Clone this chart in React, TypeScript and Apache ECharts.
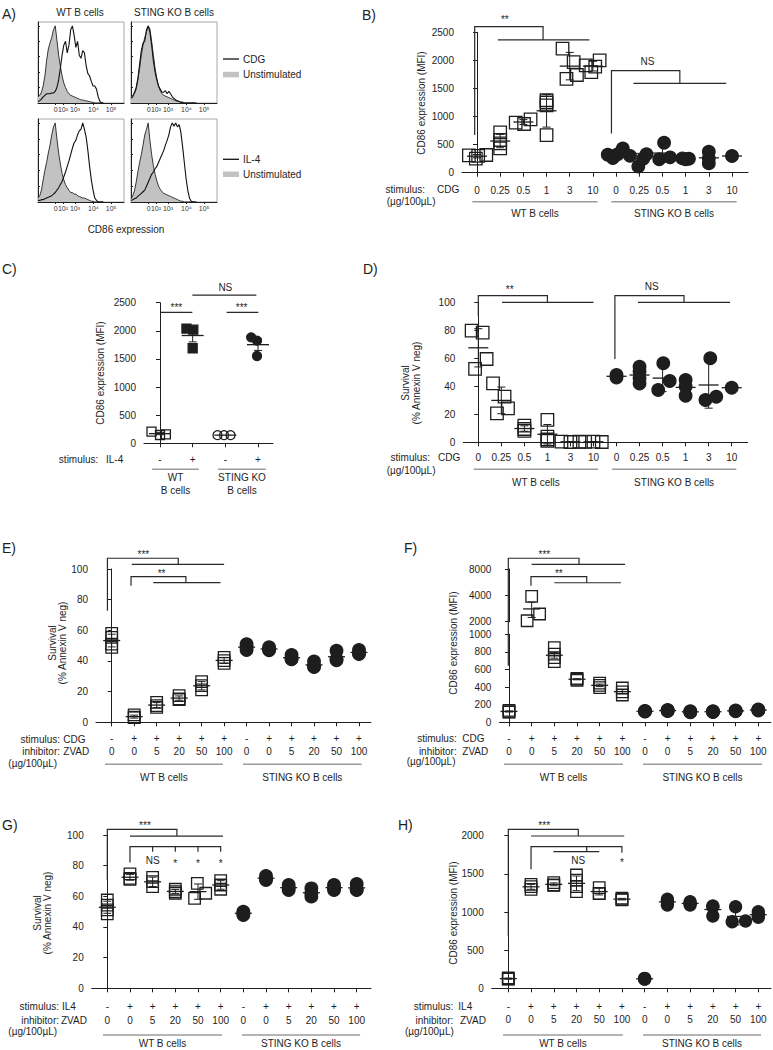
import React, { useEffect, useRef } from "react";
import * as echarts from "echarts";

const FONT = '"Liberation Sans", Arial, Helvetica, sans-serif';
const INK = "#1e1e1e";
const GROUP_LINE = "#9b9b9b";
const HIST_FILL = "#c2c2c2";

// ---------------- Panel A : flow histograms (% of max) ----------------
const HIST_X = [0, 2, 4, 6, 8, 10, 12, 14, 16, 18, 20, 22, 24, 26, 28, 30, 32, 34, 36, 38, 40, 42, 44, 46, 48, 50, 52, 54, 56, 58, 60, 62, 64, 66, 68, 70, 72, 74, 76];
const HIST_TICKS = [20.5, 29, 43, 64.5, 85];
const HIST_TICK_LABELS = ["0", "10²", "10³", "10⁴", "10⁵"];
const HIST_Y_TICKS = [0, 20, 40, 60, 80, 100];
const A_WT_UNSTIM_CDG = [8, 10, 14, 22, 35, 55, 70, 78, 85, 95, 100, 82, 62, 48, 35, 26, 20, 15, 12, 10, 9, 8, 7, 6, 5, 4, 4, 3, 3, 2, 2, 1, 1, 0, 0, 0, 0, 0, 0];
const A_WT_CDG = [2, 3, 5, 8, 10, 12, 12, 12, 13, 13, 15, 20, 30, 45, 62, 75, 80, 65, 75, 95, 100, 88, 72, 80, 62, 58, 68, 65, 48, 38, 35, 28, 22, 22, 18, 8, 2, 0, 0];
const A_KO_UNSTIM_CDG = [8, 10, 12, 18, 30, 45, 62, 75, 85, 92, 100, 96, 80, 62, 45, 32, 22, 16, 12, 10, 9, 8, 7, 6, 5, 4, 3, 2, 2, 1, 1, 0, 0, 0, 0, 0, 0, 0, 0];
const A_KO_CDG = [6, 8, 14, 20, 32, 50, 68, 78, 80, 95, 100, 92, 75, 55, 40, 30, 22, 18, 14, 14, 16, 12, 15, 12, 8, 6, 4, 3, 2, 1, 1, 0, 0, 0, 0, 0, 0, 0, 0];
const A_WT_UNSTIM_IL4 = [5, 8, 15, 28, 40, 50, 62, 72, 85, 95, 100, 80, 62, 48, 36, 28, 22, 18, 15, 12, 12, 10, 10, 8, 7, 6, 5, 5, 4, 3, 2, 1, 1, 0, 0, 0, 0, 0, 0];
const A_WT_IL4 = [2, 2, 3, 3, 4, 5, 6, 7, 8, 10, 12, 15, 18, 22, 26, 32, 38, 45, 52, 60, 68, 75, 78, 85, 90, 92, 100, 92, 82, 65, 45, 28, 15, 5, 2, 0, 0, 0, 0];
const A_KO_UNSTIM_IL4 = [4, 8, 14, 25, 38, 50, 60, 72, 85, 92, 100, 78, 60, 46, 35, 27, 20, 16, 13, 11, 10, 9, 8, 7, 6, 5, 4, 3, 2, 1, 1, 0, 0, 0, 0, 0, 0, 0, 0];
const A_KO_IL4 = [2, 3, 4, 5, 7, 9, 11, 13, 15, 20, 25, 30, 35, 38, 42, 45, 50, 55, 60, 65, 72, 78, 85, 95, 100, 96, 100, 95, 98, 88, 70, 50, 30, 15, 5, 1, 0, 0, 0];

// ---------------- shared category labels ----------------
const DOSE_LABELS = ["0", "0.25", "0.5", "1", "3", "10", "0", "0.25", "0.5", "1", "3", "10"];
const C_STIM_LABELS = ["-", "+", "-", "+"];
const ZVAD_STIM = ["-", "+", "+", "+", "+", "+", "-", "+", "+", "+", "+", "+"];
const ZVAD_DOSE = ["0", "0", "5", "20", "50", "100", "0", "0", "5", "20", "50", "100"];

// ---------------- Panel B : CD86 MFI vs CDG ----------------
const B_Y_TICKS = [0, 500, 1000, 1500, 2000, 2500];
const B_WT = [[310, 250, 300, 315], [718, 582, 522, 433], [891, 867, 950], [1290, 1250, 1200, 670], [2210, 1970, 1670, 1740], [1910, 1790, 1890, 2000]];
const B_WT_JIT = [[-0.35, -0.05, 0.05, 0.4], [0, 0, 0, 0], [-0.33, 0.03, 0.31], [0, 0, 0, 0], [-0.31, 0.17, -0.14, 0.31], [-0.31, -0.07, 0.1, 0.29]];
const B_KO = [[320, 260, 330, 430], [300, 110, 250, 330], [534, 240, 273], [255, 250, 240], [374, 255, 166], [297]];
const B_KO_JIT = [[-0.36, -0.14, 0.07, 0.29], [-0.4, -0.04, 0.17, 0.31], [0.07, -0.14, 0.33], [-0.14, 0.14, 0], [0, 0, 0], [0]];

// ---------------- Panel C : CD86 MFI vs IL-4 ----------------
const C_VALUES = [[207, 148, 160], [2040, 2020, 1690], [145, 145, 145], [1884, 1825, 1552]];
const C_JIT = [[-0.26, 0, 0.18], [-0.19, 0.02, 0], [-0.24, -0.04, 0.16], [-0.21, -0.03, -0.03]];

// ---------------- Panel D : survival vs CDG ----------------
const PCT_TICKS = [0, 20, 40, 60, 80, 100];
const D_WT = [[79.8, 78.3, 59.5, 52.4], [42.1, 32.6, 20.7, 24.3], [11.9, 9.5, 8.1], [16, 4, 2, 1], [0.5, 0.2, 0.4], [0.3, 0.5, 0.2]];
const D_WT_JIT = [[-0.29, 0.19, 0.36, -0.14], [-0.36, 0.14, -0.19, 0.29], [0, 0, 0], [0, 0, 0, 0], [-0.39, 0, 0.39], [-0.36, 0, 0.36]];
const D_KO = [[48.1, 46.2], [54, 50.5, 45.7, 42], [56.4, 37.4, 43.8], [44.5, 39.8, 33.3], [60, 30.2, 32.6], [39]];
const D_KO_JIT = [[0, 0], [0, 0, 0, 0], [0.03, -0.19, 0.31], [0, 0, 0], [0.07, -0.14, 0.33], [0]];

// ---------------- Panel E : survival, CDG + ZVAD ----------------
const E_WT = [[58, 55.4, 51, 48.9], [4.8, 3.3, 3.0], [13, 10.9, 9.8], [17.4, 15.2, 14.8], [26.5, 23.9, 21.1], [42.4, 40.2, 38.5]];
const E_KO = [[51, 48.9, 47.2], [48.9, 47.6, 47], [43.9, 41.1, 41.5], [39.6, 36.7, 36], [46.7, 41.1, 40.5], [47.2, 45, 44.5]];

// ---------------- Panel F : CD86 MFI, CDG + ZVAD (broken axis) ----------------
const F_LOW_TICKS = [0, 200, 400, 600, 800, 1000];
const F_HIGH_TICKS = [2000, 4000, 8000];
const F_WT = [[135, 120, 115], [3900, 2050, 2450], [848, 775, 735, 690], [500, 490, 478], [445, 420, 395], [390, 345, 310]];
const F_WT_JIT = [[0, 0, 0], [0, -0.2, 0.35], [0, 0, 0, 0], [0, 0, 0], [0, 0, 0], [0, 0, 0]];
const F_KO = [[128, 125, 122], [140, 132, 128], [125, 118, 115], [125, 120, 116], [135, 130, 125], [145, 140, 135]];

// ---------------- Panel G : survival, IL4 + ZVAD ----------------
const G_WT = [[57.6, 54.3, 51.1, 48.5], [74.6, 71.7, 71], [72.4, 69.6, 66.3], [64.6, 62, 63], [68.5, 58.7, 62], [70.2, 67.4, 64.6]];
const G_WT_JIT = [[0, 0, 0, 0], [0, 0, 0], [0, 0, 0], [0, 0, 0], [-0.03, -0.15, 0.34], [0, 0, 0]];
const G_KO = [[50, 47.8, 49], [73.3, 70.7, 71.5], [67.4, 64.1, 65.5], [65.2, 59.8, 62], [67.4, 64.1, 65.5], [68, 64.1, 64.5]];

// ---------------- Panel H : CD86 MFI, IL4 + ZVAD ----------------
const H_Y_TICKS = [0, 500, 1000, 1500, 2000];
const H_WT = [[135, 125, 120], [1362, 1332, 1297], [1384, 1354, 1350], [1485, 1419, 1332, 1266], [1319, 1245, 1240], [1180, 1165, 1160]];
const H_KO = [[130, 125, 120], [1166, 1092, 1140], [1135, 1092, 1110], [1070, 948, 1080], [1070, 873, 882], [1004, 930, 960]];
const H_KO_JIT = [[0, 0, 0], [0, 0, 0], [0, 0, 0], [0, 0, 0], [0, -0.15, 0.44], [0, 0, 0]];

// ---------------- significance brackets (data coordinates) ----------------
const B_BRACKETS = [
  [[-0.1, 670], [-0.1, 2600], [2.85, 2600], [2.85, 2365]], [[0.9, 2365], [4.85, 2365]],
  [[5.8, 700], [5.8, 1817], [8.75, 1817], [8.75, 1591]], [[6.75, 1591], [10.75, 1591]],
];
const B_MARKS = [[1.2, 2730, "**"], [7.35, 1977, "NS"]];
const C_BRACKETS = [[[0.03, 2328], [0.99, 2328]], [[2.04, 2328], [3.01, 2328]], [[0.99, 2636], [2.95, 2636]]];
const C_MARKS = [[0.5, 2409, "***"], [2.5, 2409, "***"], [2, 2767, "NS"]];
const D_BRACKETS = [
  [[0, 90.2], [0, 104.8], [3.0, 104.8], [3.0, 100]], [[1.03, 100], [5.0, 100]],
  [[5.93, 59.5], [5.93, 104.8], [8.93, 104.8], [8.93, 100]], [[6.93, 100], [10.93, 100]],
];
const D_MARKS = [[1.36, 109.1, "**"], [7.53, 111.1, "NS"]];
const E_BRACKETS = [
  [[-0.19, 72.8], [-0.19, 107], [2.96, 107], [2.96, 103]], [[0.89, 103], [5.0, 103]],
  [[0.86, 89.1], [0.86, 95], [3.3, 95], [3.3, 91.1]], [[1.85, 91.1], [4.84, 91.1]],
];
const E_MARKS = [[1.41, 109.5, "***"], [2.22, 96.9, "**"]];
const F_BRACKETS = [
  [[-0.03, 643], [-0.03, 1864], [3.09, 1864], [3.09, 1795]], [[1.0, 1795], [5.12, 1795]],
  [[0.97, 1552], [0.97, 1655], [3.43, 1655], [3.43, 1586]], [[2.0, 1586], [4.94, 1586]],
];
const F_MARKS = [[1.56, 1907, "***"], [2.2, 1687, "**"]];
const G_BRACKETS = [
  [[0, 70.7], [0, 103.7], [3.07, 103.7], [3.07, 99.3]], [[1.0, 99.3], [5.1, 99.3]],
  [[1.0, 82], [1.0, 92.4], [5.0, 92.4], [5.0, 89.1]], [[2, 92.4], [2, 89.1]], [[3, 92.4], [3, 89.1]], [[4, 92.4], [4, 89.1]],
];
const G_MARKS = [[1.66, 106.2, "***"], [2, 83.2, "NS"], [3, 81.7, "*"], [4, 81.7, "*"], [5, 81.7, "*"]];
const H_BRACKETS = [
  [[0, 690], [0, 2083], [3.08, 2083], [3.08, 1996]], [[1.0, 1996], [5.1, 1996]],
  [[1.0, 1559], [1.0, 1856], [5.0, 1856], [5.0, 1777]], [[3.45, 1856], [3.45, 1790]], [[1.98, 1790], [4.0, 1790]],
];
const H_MARKS = [[1.58, 2134, "***"], [3.08, 1672, "NS"], [5.0, 1651, "*"]];

// ---------------- layout (pixels) ----------------
const LAY: any = {
  B: { L: 462, R: 748, T: 32.3, B: 172.7, c0: 477, c1: 732, n: 12 },
  C: { L: 144, R: 273, T: 302.7, B: 443.3, c0: 160, c1: 258, n: 4 },
  D: { L: 463.3, R: 747.7, T: 302.3, B: 442.3, c0: 478.3, c1: 731.7, n: 12 },
  E: { L: 96, R: 371, T: 569, B: 722.3, c0: 111.7, c1: 359, n: 12 },
  F: { L: 499.3, R: 771, T: 634.3, B: 722.3, c0: 509, c1: 758.3, n: 12 },
  FU: { L: 499.3, R: 771, T: 569, B: 621.7, c0: 509, c1: 758.3, n: 12 },
  G: { L: 91.7, R: 371, T: 835, B: 988.3, c0: 107.3, c1: 356.7, n: 12 },
  H: { L: 491.7, R: 771, T: 835.7, B: 988.3, c0: 508.3, c1: 758.3, n: 12 },
};

const ST: any = {
  openSq: { symbol: "rect", color: "rgba(255,255,255,0)" },
  fillSq: { symbol: "rect", color: INK },
  openCirc: { symbol: "circle", color: "rgba(255,255,255,0)" },
  fillCirc: { symbol: "circle", color: INK },
};

const mean = (a: number[]) => a.reduce((s, v) => s + v, 0) / a.length;
const sd = (a: number[]) => {
  if (a.length < 2) return 0;
  const m = mean(a);
  return Math.sqrt(a.reduce((s, v) => s + (v - m) * (v - m), 0) / (a.length - 1));
};
const sem = (a: number[]) => (a.length < 2 ? 0 : sd(a) / Math.sqrt(a.length));

function buildOption() {
  const grid: any[] = [];
  const xAxis: any[] = [];
  const yAxis: any[] = [];
  const series: any[] = [];
  const graphic: any[] = [];

  const txt = (t: string, x: number, y: number, o: any = {}) =>
    graphic.push({ type: "text", x, y, silent: true, z: 10, style: { text: t, fontFamily: FONT, fontSize: 10, fill: INK, align: "left", verticalAlign: "middle", ...o } });
  const yName = (t: string, x: number, y: number) =>
    graphic.push({ type: "text", x, y, rotation: Math.PI / 2, silent: true, style: { text: t, fontFamily: FONT, fontSize: 10, lineHeight: 10.5, fill: INK, align: "center", verticalAlign: "middle" } });

  // ---------- Panel A ----------
  const HP = [
    { L: 38, T: 22, W: 86, H: 81, u: A_WT_UNSTIM_CDG, s: A_WT_CDG },
    { L: 131, T: 22, W: 86, H: 81, u: A_KO_UNSTIM_CDG, s: A_KO_CDG },
    { L: 38, T: 119, W: 86, H: 83, u: A_WT_UNSTIM_IL4, s: A_WT_IL4 },
    { L: 131, T: 119, W: 86, H: 83, u: A_KO_UNSTIM_IL4, s: A_KO_IL4 },
  ];
  HP.forEach((p) => {
    const gi = grid.length;
    grid.push({ left: p.L, top: p.T, width: p.W, height: p.H, show: true, borderColor: "#a8a8a8", borderWidth: 1, backgroundColor: "transparent" });
    xAxis.push({
      type: "value", gridIndex: gi, min: 0, max: 100, splitLine: { show: false },
      axisLine: { show: true, onZero: false, lineStyle: { color: INK, width: 1 } },
      axisTick: { show: true, customValues: HIST_TICKS, length: 2, lineStyle: { color: INK } },
      axisLabel: {
        show: true, customValues: HIST_TICKS, fontSize: 7, margin: 3, color: "#333", fontFamily: FONT,
        formatter: (v: number) => { const k = HIST_TICKS.findIndex((t) => Math.abs(t - v) < 0.01); return k >= 0 ? HIST_TICK_LABELS[k] : ""; },
      },
    });
    yAxis.push({
      type: "value", gridIndex: gi, min: 0, max: 105, splitLine: { show: false },
      axisLine: { show: true, lineStyle: { color: INK, width: 1 } },
      axisTick: { show: true, inside: true, length: 2, customValues: HIST_Y_TICKS, lineStyle: { color: INK } },
      axisLabel: { show: false },
    });
    const xi = xAxis.length - 1, yi = yAxis.length - 1;
    series.push({ type: "line", xAxisIndex: xi, yAxisIndex: yi, data: HIST_X.map((x, i) => [x, p.u[i]]), symbol: "none", showSymbol: false, silent: true, z: 2, lineStyle: { color: "#222", width: 0.9 }, areaStyle: { color: HIST_FILL, opacity: 1 } });
    series.push({ type: "line", xAxisIndex: xi, yAxisIndex: yi, data: HIST_X.map((x, i) => [x, p.s[i]]), symbol: "none", showSymbol: false, silent: true, z: 3, lineStyle: { color: "#111", width: 1.1 } });
  });
  txt("WT B cells", 80, 12, { align: "center" });
  txt("STING KO B cells", 174, 12, { align: "center" });
  txt("CD86 expression", 126, 229, { align: "center" });
  graphic.push({ type: "line", silent: true, shape: { x1: 223, y1: 59, x2: 239, y2: 59 }, style: { stroke: "#111", lineWidth: 1.3 } });
  txt("CDG", 243, 59);
  graphic.push({ type: "rect", silent: true, shape: { x: 223, y: 71.8, width: 16, height: 5.5 }, style: { fill: HIST_FILL } });
  txt("Unstimulated", 243, 74.5);
  graphic.push({ type: "line", silent: true, shape: { x1: 223, y1: 159.3, x2: 239, y2: 159.3 }, style: { stroke: "#111", lineWidth: 1.3 } });
  txt("IL-4", 243, 159.3);
  graphic.push({ type: "rect", silent: true, shape: { x: 223, y: 171.5, width: 16, height: 5.5 }, style: { fill: HIST_FILL } });
  txt("Unstimulated", 243, 174.3);

  // ---------- helpers for dot plots ----------
  const addCart = (lay: any, y: any, x: any) => {
    const gi = grid.length;
    grid.push({ left: lay.L, top: lay.T, width: lay.R - lay.L, height: lay.B - lay.T });
    const unit = (lay.c1 - lay.c0) / (lay.n - 1);
    const cats = Array.from({ length: lay.n }, (_, i) => i);
    xAxis.push({
      type: "value", gridIndex: gi, min: -(lay.c0 - lay.L) / unit, max: (lay.R - lay.c0) / unit,
      show: x.show !== false, splitLine: { show: false },
      axisLine: { show: true, onZero: false, lineStyle: { color: INK, width: 1 } },
      axisTick: { show: true, customValues: cats, length: 4, lineStyle: { color: INK } },
      axisLabel: {
        show: true, customValues: cats, margin: x.margin || 10, lineHeight: x.lh || 13, fontSize: 10, color: INK, fontFamily: FONT,
        formatter: (v: number) => (x.labels ? x.labels(Math.round(v)) : ""),
      },
    });
    const yCfg: any = {
      type: y.type || "value", gridIndex: gi, min: y.min, max: y.max, splitLine: { show: false },
      axisLine: { show: true, lineStyle: { color: INK, width: 1 } },
      axisTick: { show: true, customValues: y.ticks, length: 4, lineStyle: { color: INK } },
      axisLabel: { show: true, customValues: y.ticks, margin: 8, fontSize: 10, color: INK, fontFamily: FONT, formatter: (v: number) => String(Math.round(v)) },
      minorTick: { show: false },
    };
    if (y.type === "log") yCfg.logBase = y.logBase;
    yAxis.push(yCfg);
    return { xi: xAxis.length - 1, yi: yAxis.length - 1 };
  };

  const pts = (vals: number[][], jit: number[][] | null, off: number, keep: (v: number) => boolean = () => true) => {
    const out: number[][] = [];
    vals.forEach((vs, c) => vs.forEach((v, k) => { if (keep(v)) out.push([off + c + (jit ? jit[c][k] : 0), v]); }));
    return out;
  };
  const scat = (ax: any, data: number[][], st: any, size: number) =>
    series.push({ type: "scatter", xAxisIndex: ax.xi, yAxisIndex: ax.yi, symbol: st.symbol, symbolSize: size, data, silent: true, z: 3, itemStyle: { color: st.color, borderColor: INK, borderWidth: 1.3, opacity: 1 } });
  const meanErr = (ax: any, vals: number[][], off: number, errFn: any, hw: number, keep: (m: number) => boolean = () => true) => {
    const rows: number[][] = [];
    vals.forEach((vs, c) => { const m = mean(vs); if (keep(m)) rows.push([off + c, m, errFn(vs)]); });
    series.push({
      type: "custom", xAxisIndex: ax.xi, yAxisIndex: ax.yi, clip: false, silent: true, z: 4, data: rows, encode: { x: 0, y: 1 },
      renderItem: (_p: any, api: any) => {
        const x = api.value(0), m = api.value(1), e = api.value(2);
        const [px, py] = api.coord([x, m]);
        const ch: any[] = [{ type: "line", shape: { x1: px - hw, y1: py, x2: px + hw, y2: py }, style: { stroke: INK, lineWidth: 1.3 } }];
        if (e > 0) {
          const t = api.coord([x, m + e])[1], b = api.coord([x, m - e])[1];
          ch.push({ type: "line", shape: { x1: px, y1: t, x2: px, y2: b }, style: { stroke: INK, lineWidth: 1 } });
          ch.push({ type: "line", shape: { x1: px - 4, y1: t, x2: px + 4, y2: t }, style: { stroke: INK, lineWidth: 1 } });
          ch.push({ type: "line", shape: { x1: px - 4, y1: b, x2: px + 4, y2: b }, style: { stroke: INK, lineWidth: 1 } });
        }
        return { type: "group", children: ch };
      },
    });
  };
  const annot = (ax: any, brackets: number[][][], marks: any[], groups: any[], lineDy: number, labelDy: number) =>
    series.push({
      type: "custom", xAxisIndex: ax.xi, yAxisIndex: ax.yi, clip: false, silent: true, z: 5, data: [[0, 0]],
      renderItem: (_p: any, api: any) => {
        const ch: any[] = [];
        brackets.forEach((pl) => ch.push({ type: "polyline", shape: { points: pl.map((q) => api.coord(q)) }, style: { stroke: "#2a2a2a", lineWidth: 1.2, fill: "none" } }));
        marks.forEach(([x, y, s]) => { const [px, py] = api.coord([x, y]); ch.push({ type: "text", x: px, y: py, style: { text: s, fontFamily: FONT, fontSize: 10, fill: INK, align: "center", verticalAlign: "middle" } }); });
        const base = api.coord([0, 0])[1];
        groups.forEach((g) => {
          const a = api.coord([g.x0, 0])[0], b = api.coord([g.x1, 0])[0];
          ch.push({ type: "line", shape: { x1: a, y1: base + lineDy, x2: b, y2: base + lineDy }, style: { stroke: GROUP_LINE, lineWidth: 1.5 } });
          ch.push({ type: "text", x: (a + b) / 2, y: base + labelDy, style: { text: g.label, fontFamily: FONT, fontSize: 10, lineHeight: 13, fill: INK, align: "center", verticalAlign: "middle" } });
        });
        return { type: "group", children: ch };
      },
    });

  const WT_KO_BD = [{ x0: -0.2, x1: 5.2, label: "WT B cells" }, { x0: 5.8, x1: 11.2, label: "STING KO B cells" }];
  const zvadLabel = (i: number) => `${ZVAD_STIM[i]}\n${ZVAD_DOSE[i]}`;

  // ---------- Panel B ----------
  {
    const ax = addCart(LAY.B, { min: 0, max: 2500, ticks: B_Y_TICKS }, { labels: (i: number) => DOSE_LABELS[i], margin: 11 });
    scat(ax, pts(B_WT, B_WT_JIT, 0), ST.openSq, 12.5);
    scat(ax, pts(B_KO, B_KO_JIT, 6), ST.fillCirc, 12.5);
    meanErr(ax, B_WT, 0, sd, 10);
    meanErr(ax, B_KO, 6, sd, 10);
    annot(ax, B_BRACKETS, B_MARKS, WT_KO_BD, 29, 40.5);
    yName("CD86 expression (MFI)", 421.7, 103);
    txt("stimulus:", 425, 189.5, { align: "right" });
    txt("CDG", 437, 189.5);
    txt("(µg/100µL)", 386.7, 201.7);
  }
  // ---------- Panel C ----------
  {
    const ax = addCart(LAY.C, { min: 0, max: 2500, ticks: B_Y_TICKS }, { labels: (i: number) => C_STIM_LABELS[i], margin: 10 });
    const styles = [ST.openSq, ST.fillSq, ST.openCirc, ST.fillCirc];
    C_VALUES.forEach((vs, c) => scat(ax, pts([vs], [C_JIT[c]], c), styles[c], 9));
    meanErr(ax, C_VALUES, 0, sem, 11);
    annot(ax, C_BRACKETS, C_MARKS, [{ x0: -0.24, x1: 1.19, label: "WT\nB cells" }, { x0: 1.78, x1: 3.24, label: "STING KO\nB cells" }], 26, 40.2);
    yName("CD86 expression (MFI)", 100, 373);
    txt("stimulus:", 98.3, 459, { align: "right" });
    txt("IL-4", 106, 459);
  }
  // ---------- Panel D ----------
  {
    const ax = addCart(LAY.D, { min: 0, max: 100, ticks: PCT_TICKS }, { labels: (i: number) => DOSE_LABELS[i], margin: 9 });
    scat(ax, pts(D_WT, D_WT_JIT, 0), ST.openSq, 12.5);
    scat(ax, pts(D_KO, D_KO_JIT, 6), ST.fillCirc, 12.5);
    meanErr(ax, D_WT, 0, sd, 10);
    meanErr(ax, D_KO, 6, sd, 10);
    annot(ax, D_BRACKETS, D_MARKS, WT_KO_BD, 27, 40);
    yName("Survival\n(% Annexin V neg)", 411, 383);
    txt("stimulus:", 430, 457.3, { align: "right" });
    txt("CDG", 438, 457.3);
    txt("(µg/100µL)", 386.7, 470);
  }
  // ---------- Panel E ----------
  {
    const ax = addCart(LAY.E, { min: 0, max: 100, ticks: PCT_TICKS }, { labels: zvadLabel, margin: 10.3, lh: 12.7 });
    scat(ax, pts(E_WT, null, 0), ST.openSq, 11.5);
    scat(ax, pts(E_KO, null, 6), ST.fillCirc, 12.5);
    meanErr(ax, E_WT, 0, sd, 8.5);
    meanErr(ax, E_KO, 6, sd, 8.5);
    annot(ax, E_BRACKETS, E_MARKS, [{ x0: -0.3, x1: 4.94, label: "WT B cells" }, { x0: 5.84, x1: 11.12, label: "STING KO B cells" }], 42, 55.4);
    yName("Survival\n(% Annexin V neg)", 57.5, 643);
    txt("stimulus:", 60, 739, { align: "right" });
    txt("CDG", 63.3, 739);
    txt("inhibitor:", 60, 751.7, { align: "right" });
    txt("ZVAD", 63.3, 751.7);
    txt("(µg/100µL)", 8.3, 763.3);
  }
  // ---------- Panel F (broken axis: linear low, log2 high) ----------
  {
    const ax = addCart(LAY.F, { min: 0, max: 1000, ticks: F_LOW_TICKS }, { labels: zvadLabel, margin: 9.7, lh: 12.7 });
    const up = addCart(LAY.FU, { type: "log", logBase: 2, min: 2000, max: 8000, ticks: F_HIGH_TICKS }, { show: false });
    const low = (v: number) => v < 1500;
    const high = (v: number) => v >= 1500;
    scat(ax, pts(F_WT, F_WT_JIT, 0, low), ST.openSq, 11.5);
    scat(up, pts(F_WT, F_WT_JIT, 0, high), ST.openSq, 11.5);
    scat(ax, pts(F_KO, null, 6), ST.fillCirc, 12.5);
    meanErr(ax, F_WT, 0, sem, 8.5, low);
    meanErr(up, F_WT, 0, sem, 8.5, high);
    meanErr(ax, F_KO, 6, sem, 8.5);
    annot(ax, F_BRACKETS, F_MARKS, [{ x0: -0.22, x1: 5.03, label: "WT B cells" }, { x0: 5.91, x1: 11.16, label: "STING KO B cells" }], 42, 55);
    yName("CD86 expression (MFI)", 453.3, 643);
    txt("stimulus:", 456.7, 738.3, { align: "right" });
    txt("CDG", 462.3, 738.3);
    txt("inhibitor:", 456.7, 751, { align: "right" });
    txt("ZVAD", 462.3, 751);
    txt("(µg/100µL)", 406.7, 761.7);
  }
  // ---------- Panel G ----------
  {
    const ax = addCart(LAY.G, { min: 0, max: 100, ticks: PCT_TICKS }, { labels: zvadLabel, margin: 11.4, lh: 14 });
    scat(ax, pts(G_WT, G_WT_JIT, 0), ST.openSq, 11.5);
    scat(ax, pts(G_KO, null, 6), ST.fillCirc, 12.5);
    meanErr(ax, G_WT, 0, sd, 8.5);
    meanErr(ax, G_KO, 6, sd, 8.5);
    annot(ax, G_BRACKETS, G_MARKS, [{ x0: -0.19, x1: 5.06, label: "WT B cells" }, { x0: 5.94, x1: 11.15, label: "STING KO B cells" }], 46.7, 55.5);
    yName("Survival\n(% Annexin V neg)", 42.5, 913);
    txt("stimulus:", 59, 1006, { align: "right" });
    txt("IL4", 62, 1006);
    txt("inhibitor:", 59, 1020, { align: "right" });
    txt("ZVAD", 61, 1020);
    txt("(µg/100µL)", 8.3, 1031.7);
  }
  // ---------- Panel H ----------
  {
    const ax = addCart(LAY.H, { min: 0, max: 2000, ticks: H_Y_TICKS }, { labels: zvadLabel, margin: 11.6, lh: 13.3 });
    scat(ax, pts(H_WT, null, 0), ST.openSq, 11.5);
    scat(ax, pts(H_KO, H_KO_JIT, 6), ST.fillCirc, 12);
    meanErr(ax, H_WT, 0, sd, 8.5);
    meanErr(ax, H_KO, 6, sd, 8.5);
    annot(ax, H_BRACKETS, H_MARKS, [{ x0: -0.23, x1: 5.04, label: "WT B cells" }, { x0: 5.93, x1: 11.12, label: "STING KO B cells" }], 46.7, 55.5);
    yName("CD86 expression (MFI)", 453.3, 913);
    txt("stimulus:", 453.3, 1006.7, { align: "right" });
    txt("IL4", 458.3, 1006.7);
    txt("inhibitor:", 453.3, 1020, { align: "right" });
    txt("ZVAD", 460, 1020);
    txt("(µg/100µL)", 405, 1031.7);
  }

  // ---------- panel letters ----------
  const LETTERS: any[] = [["A)", 2, 14], ["B)", 362, 15], ["C)", 2, 269], ["D)", 363, 269], ["E)", 2, 548], ["F)", 404, 548], ["G)", 2, 825], ["H)", 398, 825]];
  LETTERS.forEach(([t, x, y]) => txt(t, x, y, { fontSize: 14 }));

  return { animation: false, backgroundColor: "#ffffff", textStyle: { fontFamily: FONT }, grid, xAxis, yAxis, series, graphic };
}

export default function App() {
  const ref = useRef<HTMLDivElement>(null);
  useEffect(() => {
    const chart = echarts.init(ref.current as HTMLDivElement, null, { renderer: "svg" });
    chart.setOption(buildOption() as any);
    return () => chart.dispose();
  }, []);
  return <div ref={ref} style={{ position: "absolute", left: 0, top: 0, width: 773, height: 1050, background: "#fff" }} />;
}
